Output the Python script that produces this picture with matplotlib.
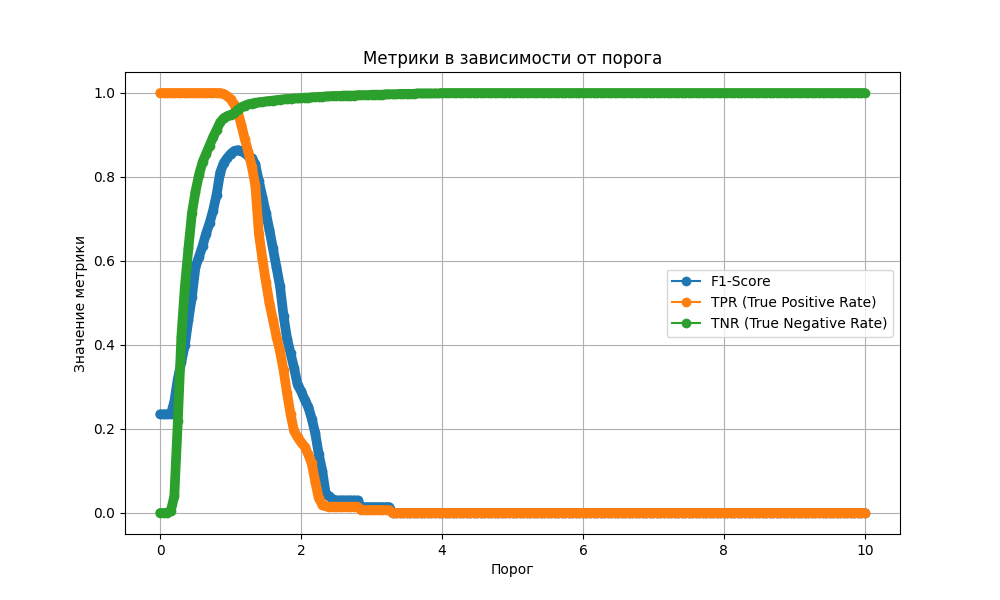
"""
Threshold sweep plot: F1 / TPR / TNR vs. decision threshold.
Writes out.png (1000x600).
"""

import matplotlib

matplotlib.use("Agg")

import matplotlib.pyplot as plt
import numpy as np
from matplotlib.lines import Line2D

# Threshold grid of the sweep: 0.00 .. 10.00, step 0.05 (201 points).
thresholds = np.round(np.arange(0, 10.001, 0.05), 2)

# Values, one row per 0.5 of threshold.
f1_score = [
    0.235, 0.235, 0.235, 0.235, 0.265, 0.32, 0.36, 0.40, 0.46, 0.515,
    0.585, 0.61, 0.635, 0.665, 0.69, 0.72, 0.758, 0.81, 0.833, 0.845,
    0.855, 0.862, 0.864, 0.862, 0.857, 0.85, 0.845, 0.83, 0.79, 0.753,
    0.715, 0.674, 0.63, 0.585, 0.54, 0.47, 0.415, 0.38, 0.345, 0.305,
    0.29, 0.27, 0.253, 0.225, 0.19, 0.14, 0.10, 0.045, 0.04, 0.032,
    0.03, 0.03, 0.03, 0.03, 0.03, 0.03, 0.03, 0.014, 0.014, 0.014,
    0.014, 0.014, 0.014, 0.014, 0.014, 0.014,
] + [0.0] * 135

tpr = [
    1.0, 1.0, 1.0, 1.0, 1.0, 1.0, 1.0, 1.0, 1.0, 1.0,
    1.0, 1.0, 1.0, 1.0, 1.0, 1.0, 1.0, 1.0, 0.998, 0.993,
    0.985, 0.973, 0.955, 0.925, 0.89, 0.86, 0.825, 0.78, 0.665, 0.605,
    0.55, 0.50, 0.46, 0.42, 0.385, 0.34, 0.285, 0.235, 0.195, 0.18,
    0.168, 0.158, 0.14, 0.118, 0.075, 0.035, 0.02, 0.016, 0.015, 0.015,
    0.015, 0.015, 0.015, 0.015, 0.015, 0.015, 0.015, 0.007, 0.007, 0.007,
    0.007, 0.007, 0.007, 0.007, 0.007, 0.007,
] + [0.0] * 135

tnr = [
    0.0, 0.0, 0.0, 0.005, 0.04, 0.22, 0.42, 0.54, 0.63, 0.714,
    0.765, 0.805, 0.835, 0.855, 0.875, 0.895, 0.912, 0.93, 0.94, 0.945,
    0.948, 0.952, 0.96, 0.966, 0.97, 0.973, 0.975, 0.977, 0.978, 0.979,
    0.98, 0.981, 0.982, 0.983, 0.984, 0.985, 0.986, 0.986, 0.987, 0.987,
    0.988, 0.989, 0.989, 0.990, 0.990, 0.991, 0.991, 0.992, 0.992, 0.993,
    0.993, 0.993, 0.994, 0.994, 0.994, 0.994, 0.995, 0.995, 0.995, 0.995,
    0.996, 0.996, 0.996, 0.996, 0.997, 0.997, 0.997, 0.997, 0.998, 0.998,
    0.998, 0.998, 0.998, 0.999, 0.999, 0.999, 0.999, 0.999, 0.999, 0.999,
    1.0,
] + [1.0] * 120

series_labels = [
    "F1-Score",
    "TPR (True Positive Rate)",
    "TNR (True Negative Rate)",
]
series_colors = ["#1f77b4", "#ff7f0e", "#2ca02c"]


def main() -> None:
    fig, ax = plt.subplots(figsize=(10, 6), dpi=100)
    handles = []
    for values, label, color in zip([f1_score, tpr, tnr], series_labels, series_colors):
        # The original sweep is so dense that its markers merge into a solid
        # band; a marker-wide line reproduces that look.
        ax.plot(thresholds, values, color=color, marker="o", markersize=6,
                linewidth=7, solid_capstyle="round", solid_joinstyle="round")
        handles.append(Line2D([], [], color=color, marker="o", label=label))

    ax.set_title("Метрики в зависимости от порога")
    ax.set_xlabel("Порог")
    ax.set_ylabel("Значение метрики")
    ax.grid(True)
    ax.legend(handles=handles, loc="center right")
    fig.savefig("out.png", dpi=100)
    plt.close(fig)


if __name__ == "__main__":
    main()
